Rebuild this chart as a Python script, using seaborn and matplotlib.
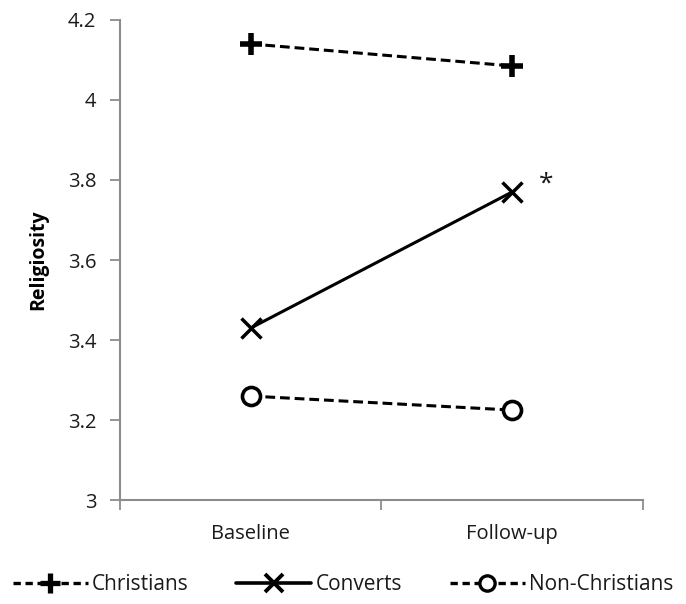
import matplotlib
matplotlib.use("Agg")
import matplotlib.pyplot as plt
import seaborn as sns
import pandas as pd
from matplotlib.lines import Line2D

timepoints = ["Baseline", "Follow-up"]
groups = ["Christians", "Converts", "Non-Christians"]
christians = [4.14, 4.085]
converts = [3.43, 3.77]
non_christians = [3.26, 3.225]
yticks = [3, 3.2, 3.4, 3.6, 3.8, 4, 4.2]
ytick_labels = ["3", "3.2", "3.4", "3.6", "3.8", "4", "4.2"]

sns.set_theme(style="white")
plt.rcParams['font.family'] = ['Open Sans', 'DejaVu Sans']

df = pd.DataFrame({
    "time": timepoints * 3,
    "group": sum([[g] * 2 for g in groups], []),
    "value": christians + converts + non_christians,
})

fig = plt.figure(figsize=(6.86, 6.04), dpi=100)
ax = fig.add_axes([0.175, 0.172, 0.762, 0.795])

dash = (0, (3.2, 1.6))
for g in groups:
    sub = df[df.group == g]
    if g == "Christians":
        sns.lineplot(data=sub, x="time", y="value", ax=ax, color="black",
                     linestyle=dash, linewidth=2.2, marker="+",
                     markersize=16, markeredgewidth=4, markeredgecolor="black",
                     sort=False)
    elif g == "Converts":
        sns.lineplot(data=sub, x="time", y="value", ax=ax, color="black",
                     linestyle="-", linewidth=2.2, marker="x",
                     markersize=14, markeredgewidth=2.5, markeredgecolor="black",
                     sort=False)
    else:
        sns.lineplot(data=sub, x="time", y="value", ax=ax, color="black",
                     linestyle=dash, linewidth=2.2, marker="o",
                     markersize=13, markeredgewidth=2.6,
                     markerfacecolor="white", markeredgecolor="black", sort=False)

ax.set_xlim(-0.5, 1.5)
ax.set_ylim(3, 4.2)
ax.set_yticks(yticks)
ax.set_yticklabels(ytick_labels, fontsize=14.5, color="#1a1a1a")
ax.set_xticks([0, 1])
ax.set_xticklabels(timepoints, fontsize=14.5, color="#1a1a1a")
ax.set_xticks([-0.5, 0.5, 1.5], minor=True)
ax.tick_params(axis="x", which="major", length=0, pad=17)
ax.tick_params(axis="x", which="minor", length=7, width=1.3, color="#8c8c8c", bottom=True, direction="out")
ax.tick_params(axis="y", which="major", length=7, width=1.3, color="#8c8c8c", left=True, direction="out", pad=10)
ax.set_xlabel("")
ax.set_ylabel("Religiosity", fontsize=14, fontweight="bold", labelpad=14, color="black")

for s in ["top", "right"]:
    ax.spines[s].set_visible(False)
for s in ["left", "bottom"]:
    ax.spines[s].set_color("#8c8c8c")
    ax.spines[s].set_linewidth(1.5)

ax.text(1.13, 3.79, "*", fontsize=19, ha="center", va="center", color="#1a1a1a")

handles = [
    Line2D([], [], color="black", ls=(0, (2.2, 1.4)), lw=2.4, marker="+", ms=14, mew=3.8),
    Line2D([], [], color="black", ls="-", lw=2.6, marker="x", ms=13, mew=2.8),
    Line2D([], [], color="black", ls=(0, (2.2, 1.4)), lw=2.4, marker="o", ms=11, mew=2.4, mfc="white"),
]
fig.legend(handles, groups, loc="center", bbox_to_anchor=(0.5, 0.032), ncol=3,
           frameon=False, fontsize=15, handlelength=3.6, handletextpad=0.2,
           columnspacing=2.3, labelcolor="#1a1a1a")

fig.savefig("out.png", dpi=100)
